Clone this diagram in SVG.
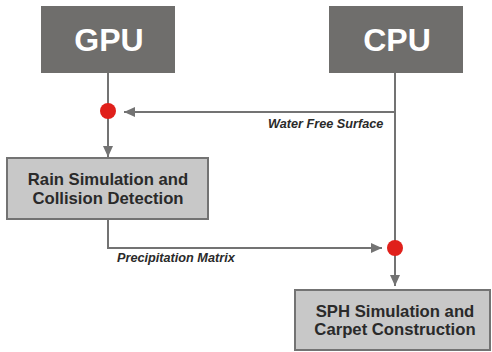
<svg xmlns="http://www.w3.org/2000/svg" width="492" height="352" viewBox="0 0 492 352">
<style>
.dark{fill:#6f6e6c}
.light{fill:#c8c8c8;stroke:#737373;stroke-width:2}
.big{font-family:"Liberation Sans",Arial,sans-serif;font-weight:bold;font-size:32px;fill:#fff;text-anchor:middle}
.mid{font-family:"Liberation Sans",Arial,sans-serif;font-weight:bold;font-size:16.7px;fill:#2a2a2a;text-anchor:middle}
.lbl{font-family:"Liberation Sans",Arial,sans-serif;font-weight:bold;font-style:italic;font-size:12.7px;fill:#2a2a2a}
.ln{fill:none;stroke:#737373;stroke-width:2}
.dot{fill:#e0201b}
</style>
<defs>
<marker id="ah" markerUnits="userSpaceOnUse" markerWidth="12" markerHeight="10" refX="11" refY="5" orient="auto">
<path d="M0,0 L11,5 L0,10 Z" fill="#737373"/>
</marker>
</defs>
<g id="gpu"><rect class="dark" x="41" y="6" width="134" height="67"/><text class="big" x="109" y="51">GPU</text></g>
<g id="cpu"><rect class="dark" x="329" y="6" width="134" height="67"/><text class="big" x="397" y="51">CPU</text></g>
<g id="rain"><rect class="light" x="7" y="158" width="201" height="61"/><text class="mid" x="108" y="185">Rain Simulation and</text><text class="mid" x="108" y="204">Collision Detection</text></g>
<g id="sph"><rect class="light" x="295" y="290" width="195" height="60"/><text class="mid" x="395" y="317">SPH Simulation and</text><text class="mid" x="395" y="335">Carpet Construction</text></g>
<g id="connectors">
<path class="ln" d="M108,73 V111"/>
<path class="ln" d="M108,111 V157" marker-end="url(#ah)"/>
<path class="ln" d="M395,73 V112 H124" marker-end="url(#ah)"/>
<path class="ln" d="M395,112 V248"/>
<path class="ln" d="M395,248 V286" marker-end="url(#ah)"/>
<path class="ln" d="M108,219 V248 H382" marker-end="url(#ah)"/>
<circle class="dot" cx="108" cy="111" r="8"/>
<circle class="dot" cx="395" cy="248" r="8"/>
<text class="lbl" x="268" y="127.5">Water Free Surface</text>
<text class="lbl" x="117" y="262">Precipitation Matrix</text>
</g>
</svg>
